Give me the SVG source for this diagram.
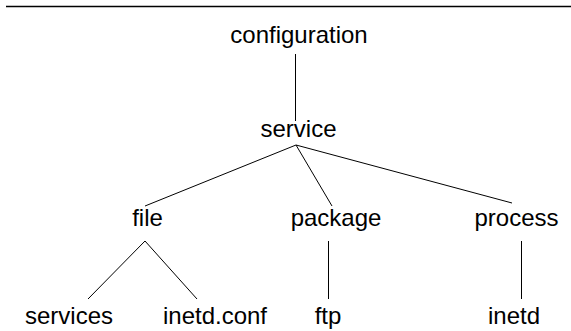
<svg xmlns="http://www.w3.org/2000/svg" width="571" height="331" viewBox="0 0 571 331">
<style>
text{font-family:"Liberation Sans",Arial,sans-serif;font-size:24px;fill:#000;text-anchor:middle}
.c line{stroke:#000;stroke-width:1}
</style>
<rect width="571" height="331" fill="#fff"/>
<line x1="6" y1="6.5" x2="571" y2="6.5" stroke="#000" stroke-width="1.5"/>
<g class="c" id="connectors">
<line x1="295.5" y1="54" x2="295.5" y2="121"/>
<line x1="296" y1="145" x2="145" y2="206"/>
<line x1="296" y1="145" x2="332" y2="206"/>
<line x1="296" y1="145" x2="512" y2="203"/>
<line x1="145" y1="241" x2="88" y2="299"/>
<line x1="145" y1="241" x2="197" y2="299"/>
<line x1="328.5" y1="241" x2="328.5" y2="299"/>
<line x1="521.5" y1="241" x2="521.5" y2="299"/>
</g>
<g id="configuration"><text x="299" y="43">configuration</text></g>
<g id="service"><text x="298.5" y="137">service</text></g>
<g id="file"><text x="147.5" y="226">file</text></g>
<g id="package"><text x="336" y="226">package</text></g>
<g id="process"><text x="516.5" y="226">process</text></g>
<g id="services"><text x="69" y="324">services</text></g>
<g id="inetd.conf"><text x="215" y="324">inetd.conf</text></g>
<g id="ftp"><text x="328" y="324">ftp</text></g>
<g id="inetd"><text x="514" y="324">inetd</text></g>
</svg>
